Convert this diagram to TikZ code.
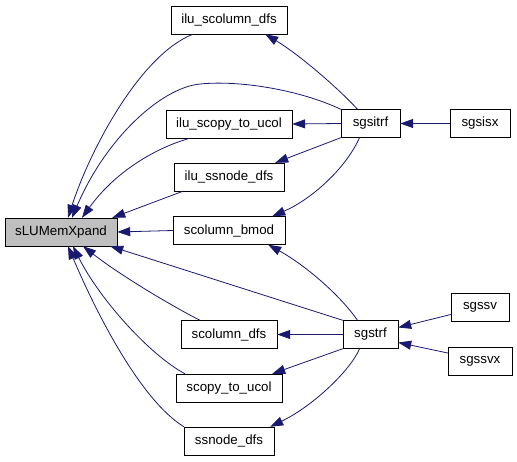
\documentclass[tikz,border=0pt]{standalone}
\usepackage{xcolor}
\usepackage{fontspec}
\setmainfont{Liberation Sans}
\usetikzlibrary{arrows.meta}
\definecolor{edgeblue}{HTML}{191970}
\definecolor{hilite}{HTML}{BFBFBF}
\begin{document}
\begin{tikzpicture}[x = 1pt, y = -1pt,
                        fn/.style = {draw, rectangle, minimum height = 28pt, inner sep = 0pt, font = \fontsize{13.3}{16}\selectfont},
                        call/.style = {draw = edgeblue, line width = 0.8pt, -{Triangle[length = 13pt, width = 9pt]}, fill = none}]
                        \useasboundingbox (0,0) rectangle (517,461);

                        \node (sLUMemXpand) [fn, fill = hilite, minimum width = 112pt] at (61,232) {sLUMemXpand};

                        \node (ilu_scolumn_dfs) [fn, minimum width = 116pt] at (229,20) {ilu\_scolumn\_dfs};
                        \node (ilu_scopy_to_ucol) [fn, minimum width = 126pt] at (229,124) {ilu\_scopy\_to\_ucol};
                        \node (ilu_ssnode_dfs) [fn, minimum width = 110pt] at (229,177) {ilu\_ssnode\_dfs};
                        \node (scolumn_bmod) [fn, minimum width = 112pt] at (229,230.5) {scolumn\_bmod};
                        \node (scolumn_dfs) [fn, minimum width = 96pt] at (229,334.5) {scolumn\_dfs};
                        \node (scopy_to_ucol) [fn, minimum width = 106pt] at (229,388) {scopy\_to\_ucol};
                        \node (ssnode_dfs) [fn, minimum width = 90pt] at (229,441) {ssnode\_dfs};

                        \node (sgsitrf) [fn, minimum width = 59pt] at (370.5,123.5) {sgsitrf};
                        \node (sgstrf) [fn, minimum width = 55pt] at (370.5,334.5) {sgstrf};

                        \node (sgsisx) [fn, minimum width = 60pt] at (480,123.5) {sgsisx};
                        \node (sgssv) [fn, minimum width = 58pt] at (480,307.5) {sgssv};
                        \node (sgssvx) [fn, minimum width = 64pt] at (480,361) {sgssvx};

                        % callers of sLUMemXpand
                        \draw [call] ([xshift = -36pt]ilu_scolumn_dfs.south) .. controls (140,55) and (90,150) .. ([xshift = 7pt]sLUMemXpand.north);
                        \draw [call] (sgsitrf.north west) .. controls (300,90) and (240,80) .. (200,84) .. controls (160,88) and (105,140) .. ([xshift = 11pt]sLUMemXpand.north);
                        \draw [call] ([xshift = -39pt]ilu_scopy_to_ucol.south) .. controls (155,148) and (115,172) .. ([xshift = 21pt]sLUMemXpand.north);
                        \draw [call] ([xshift = -46pt]ilu_ssnode_dfs.south) -- ([xshift = -5pt]sLUMemXpand.north east);
                        \draw [call] (scolumn_bmod.west) -- (sLUMemXpand.east);
                        \draw [call] (sgstrf.north west) -- ([xshift = -7pt]sLUMemXpand.south east);
                        \draw [call] ([xshift = -29pt]scolumn_dfs.north) .. controls (170,305) and (120,275) .. ([xshift = 22pt]sLUMemXpand.south);
                        \draw [call] ([xshift = -44pt]scopy_to_ucol.north) .. controls (150,355) and (100,300) .. ([xshift = 12pt]sLUMemXpand.south);
                        \draw [call] ([xshift = -45pt]ssnode_dfs.north) .. controls (140,400) and (95,310) .. ([xshift = 7pt]sLUMemXpand.south);

                        % sgsitrf
                        \draw [call] ([xshift = -13pt]sgsitrf.north) .. controls (340,90) and (300,55) .. ([xshift = -22pt]ilu_scolumn_dfs.south east);
                        \draw [call] (sgsitrf.west) -- (ilu_scopy_to_ucol.east);
                        \draw [call] (sgsitrf.south west) -- ([xshift = -9pt]ilu_ssnode_dfs.north east);
                        \draw [call] ([xshift = -11pt]sgsitrf.south) .. controls (345,170) and (310,200) .. ([xshift = -13pt]scolumn_bmod.north east);
                        \draw [call] (sgsisx.west) -- (sgsitrf.east);

                        % sgstrf
                        \draw [call] ([xshift = -13pt]sgstrf.north) .. controls (340,295) and (305,265) .. ([xshift = -17pt]scolumn_bmod.south east);
                        \draw [call] (sgstrf.west) -- (scolumn_dfs.east);
                        \draw [call] (sgstrf.south west) -- ([xshift = -10pt]scopy_to_ucol.north east);
                        \draw [call] ([xshift = -11pt]sgstrf.south) .. controls (352,368) and (315,405) .. ([xshift = -4pt]ssnode_dfs.north east);
                        \draw [call] ([yshift = -7pt]sgssv.west) -- ([yshift = 7pt]sgstrf.east);
                        \draw [call] ([yshift = 8pt]sgssvx.west) -- ([yshift = -8pt]sgstrf.east);
                    \end{tikzpicture}
\end{document}
